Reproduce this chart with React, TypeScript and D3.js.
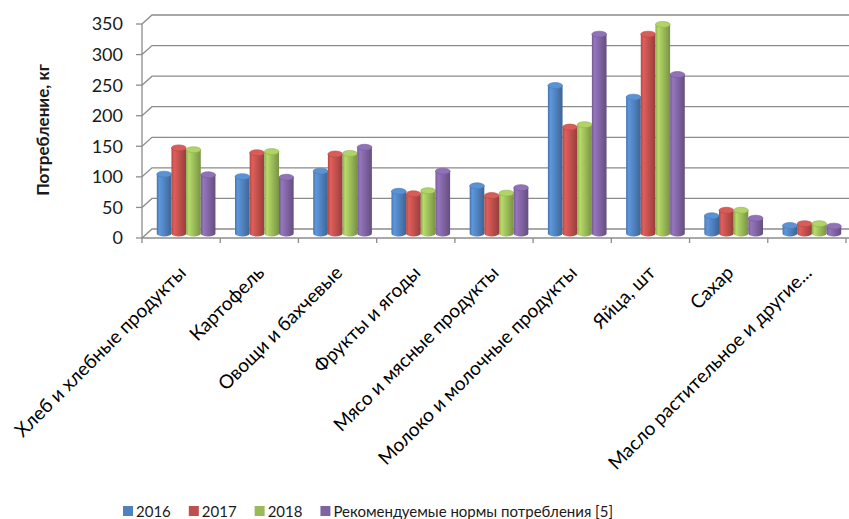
import React, { useEffect, useRef } from 'react';
import * as d3 from 'd3';

const categories = [
  'Хлеб и хлебные продукты',
  'Картофель',
  'Овощи и бахчевые',
  'Фрукты и ягоды',
  'Мясо и мясные продукты',
  'Молоко и молочные продукты',
  'Яйца, шт',
  'Сахар',
  'Масло растительное и другие...',
];

const seriesNames = ['2016', '2017', '2018', 'Рекомендуемые нормы потребления [5]'];

const values2016 = [97, 93, 102, 69, 78, 242, 223, 29, 13];
const values2017 = [140, 132, 130, 65, 62, 174, 326, 38, 16];
const values2018 = [137, 134, 131, 70, 66, 178, 342, 38, 16];
const valuesNorm = [96, 92, 141, 102, 75, 326, 260, 25, 12];

const yTicks = [0, 50, 100, 150, 200, 250, 300, 350];

const colors = ['#4F81BD', '#C0504D', '#9BBB59', '#8064A2'];

const W = 849;
const H = 519;
const FONT = 'Lato, "Open Sans", sans-serif';

const App = () => {
  const ref = useRef<SVGSVGElement | null>(null);

  useEffect(() => {
    if (!ref.current) return;
    const svg = d3.select(ref.current);
    svg.selectAll('*').remove();

    const series = [values2016, values2017, values2018, valuesNorm];

    // 3d depth offset (front -> back)
    const dx = 10;
    const dy = -9;
    const left = 142;
    const right = 846;

    const yBack = d3.scaleLinear().domain([0, 350]).range([229, 15]);
    const yFront = (v: number) => yBack(v) - dy;
    const yMid = (v: number) => yBack(v) - dy / 2;

    const xFront = d3.scaleBand<number>()
      .domain(d3.range(categories.length))
      .range([left, right]);
    const xMid = d3.scaleBand<number>()
      .domain(d3.range(categories.length))
      .range([left + dx / 2, right + dx / 2])
      .paddingInner(0.25)
      .paddingOuter(0.125);
    const xSeries = d3.scaleBand<number>()
      .domain(d3.range(series.length))
      .range([0, xMid.bandwidth()]);

    const defs = svg.append('defs');
    colors.forEach((c, i) => {
      const base = d3.color(c)!;
      const g = defs.append('linearGradient')
        .attr('id', `cyl-${i}`)
        .attr('x1', 0).attr('x2', 1).attr('y1', 0).attr('y2', 0);
      g.append('stop').attr('offset', '0%').attr('stop-color', base.darker(0.3).formatHex());
      g.append('stop').attr('offset', '18%').attr('stop-color', base.brighter(0.45).formatHex());
      g.append('stop').attr('offset', '55%').attr('stop-color', base.formatHex());
      g.append('stop').attr('offset', '100%').attr('stop-color', base.darker(0.7).formatHex());
    });

    const grid = '#8c8c8c';

    // back wall + side wall gridlines
    const gGrid = svg.append('g').attr('fill', 'none').attr('stroke', grid).attr('stroke-width', 1.3);
    yTicks.forEach(t => {
      gGrid.append('path')
        .attr('d', `M${left},${yFront(t)}L${left + dx},${yBack(t)}L${right + 3},${yBack(t)}`);
    });

    // floor front edge + category ticks
    gGrid.append('line')
      .attr('x1', left).attr('x2', right + 3)
      .attr('y1', yFront(0)).attr('y2', yFront(0));
    d3.range(categories.length + 1).forEach(i => {
      const x = i < categories.length ? xFront(i)! : right;
      gGrid.append('line')
        .attr('x1', x).attr('x2', x)
        .attr('y1', yFront(0)).attr('y2', yFront(0) + 5);
    });

    // value axis
    gGrid.append('line')
      .attr('x1', left).attr('x2', left)
      .attr('y1', yFront(350)).attr('y2', yFront(0));
    yTicks.forEach(t => {
      gGrid.append('line')
        .attr('x1', left - 6).attr('x2', left)
        .attr('y1', yFront(t)).attr('y2', yFront(t));
    });

    svg.append('g')
      .attr('font-family', FONT)
      .attr('font-size', 18)
      .attr('fill', '#1a1a1a')
      .attr('text-anchor', 'end')
      .selectAll('text')
      .data(yTicks)
      .enter().append('text')
      .attr('x', 123)
      .attr('y', d => yFront(d))
      .attr('dy', '0.36em')
      .text(d => d);

    svg.append('text')
      .attr('transform', `translate(49,${130}) rotate(-90)`)
      .attr('text-anchor', 'middle')
      .attr('font-family', FONT)
      .attr('font-weight', 'bold')
      .attr('font-size', 17)
      .attr('fill', '#1a1a1a')
      .text('Потребление, кг');

    // cylinders
    const gBars = svg.append('g');
    const ry = 3;
    categories.forEach((_, ci) => {
      series.forEach((vals, si) => {
        const x0 = xMid(ci)! + xSeries(si)!;
        const w = xSeries.bandwidth();
        const rx = w / 2;
        const yt = yMid(vals[ci]);
        const yb = yMid(0);
        const base = d3.color(colors[si])!;
        gBars.append('path')
          .attr('d', `M${x0},${yt}L${x0},${yb}A${rx},${ry} 0 0 0 ${x0 + w},${yb}L${x0 + w},${yt}Z`)
          .attr('fill', `url(#cyl-${si})`);
        gBars.append('ellipse')
          .attr('cx', x0 + rx).attr('cy', yt)
          .attr('rx', rx).attr('ry', ry)
          .attr('fill', base.brighter(0.35).formatHex())
          .attr('stroke', base.darker(0.2).formatHex())
          .attr('stroke-width', 0.6);
      });
    });

    // category labels
    svg.append('g')
      .attr('font-family', FONT)
      .attr('font-size', 19)
      .attr('fill', '#000')
      .attr('text-anchor', 'end')
      .selectAll('text')
      .data(categories)
      .enter().append('text')
      .attr('transform', (d, i) => `translate(${xFront(i)! + xFront.bandwidth() / 2 + 6},${274}) rotate(-45)`)
      .text(d => d);

    // legend
    const legend = svg.append('g')
      .attr('font-family', FONT)
      .attr('font-size', 15)
      .attr('fill', '#1a1a1a');
    let lx = 123;
    seriesNames.forEach((name, i) => {
      legend.append('rect')
        .attr('x', lx).attr('y', 506)
        .attr('width', 10).attr('height', 10)
        .attr('fill', colors[i]);
      const t = legend.append('text')
        .attr('x', lx + 13).attr('y', 517)
        .text(name);
      const len = (t.node() as SVGTextElement).getComputedTextLength();
      lx += 13 + len + 18;
    });
  }, []);

  return (
    <svg
      ref={ref}
      width={W}
      height={H}
      style={{ position: 'absolute', left: 0, top: 0, background: '#fff' }}
    />
  );
};

export default App;
